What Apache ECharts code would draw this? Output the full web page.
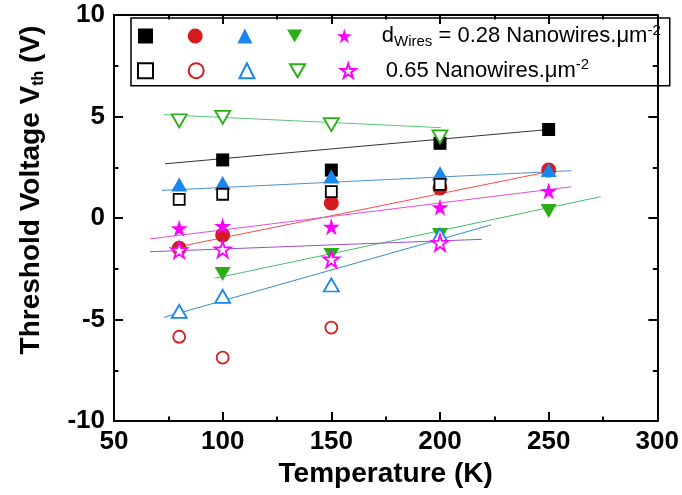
<!DOCTYPE html>
<html>
<head>
<meta charset="utf-8">
<script src="https://cdn.jsdelivr.net/npm/echarts@6/dist/echarts.min.js"></script>
<style>
  html, body { margin: 0; padding: 0; background: #fff; }
  #chart { width: 682px; height: 495px; }
</style>
</head>
<body>
<div id="chart"></div>
<script>
// temperatures (K)
const temps = [80, 100, 150, 200, 250];

// d = 0.28 nanowires/um2 (filled symbols)
const squareFilled = [null, 2.86, 2.36, 3.68, 4.36];
const circleFilled = [-1.49, -0.84, 0.74, 1.48, 2.36];
const triFilled = [1.65, 1.72, 2.05, 2.2, 2.36];
const downFilled = [null, -2.76, -1.82, -0.84, 0.35];
const starFilled = [-0.51, -0.39, -0.43, 0.53, 1.33];

// d = 0.65 nanowires/um2 (open symbols)
const squareOpen = [0.92, 1.17, 1.3, 1.66, null];
const circleOpen = [-5.85, -6.88, -5.4, null, null];
const triOpen = [-4.6, -3.86, -3.3, -0.84, null];
const downOpen = [4.79, 4.96, 4.6, 4.0, null];
const starOpen = [-1.58, -1.54, -2.03, -1.22, null];

// linear fits, [start, end] as [T, V]
const fitBlack = [[73.5, 2.67], [250, 4.36]];
const fitRed = [[80, -1.41], [250, 2.28]];
const fitBlue = [[72, 1.36], [260.5, 2.33]];
const fitGreen = [[96.4, -2.97], [274, 1.05]];
const fitMagenta = [[66.6, -1.03], [260.5, 1.54]];
const fitGreenOpen = [[73, 5.09], [200.4, 4.45]];
const fitBlueOpen = [[73, -4.89], [223.5, -0.34]];
const fitPurpleOpen = [[66.6, -1.66], [219.3, -1.05]];

const xTicks = [50, 100, 150, 200, 250, 300];
const yTicks = [-10, -5, 0, 5, 10];

const STAR = 'path://M50,0 L61.23,34.55 L97.55,34.55 L68.17,55.9 L79.39,90.45 L50,69.1 L20.61,90.45 L31.83,55.9 L2.45,34.55 L38.77,34.55 Z';
const DOWN = 'path://M0,0 L16,0 L8,14 Z';
const FONT = 'Liberation Sans, Arial, sans-serif';

function pts(vals) {
  return temps.map((t, i) => [t, vals[i]]).filter(p => p[1] !== null);
}

function fit(name, d, color) {
  return {
    name: name, type: 'line', data: d, symbol: 'none', silent: true, z: 1,
    lineStyle: { color: color, width: 1 }
  };
}

function filled(name, vals, symbol, color, size) {
  return {
    name: name, type: 'scatter', data: pts(vals), symbol: symbol,
    symbolSize: size, z: 3,
    itemStyle: { color: color, opacity: 1 }
  };
}

function hollow(name, vals, symbol, color, size) {
  return {
    name: name, type: 'scatter', data: pts(vals), symbol: symbol,
    symbolSize: size, z: 4,
    itemStyle: { color: '#fff', borderColor: color, borderWidth: 1.8, opacity: 1 }
  };
}

const black = '#000000', red = '#d41c1f', blue = '#1a86f0', green = '#2aae16', magenta = '#ff00ff';

const series = [
  fit('f1', fitBlack, '#333333'),
  fit('f2', fitRed, '#ff4a4a'),
  fit('f3', fitBlue, '#4a90d0'),
  fit('f4', fitGreen, '#45c068'),
  fit('f5', fitMagenta, '#e050d8'),
  fit('f6', fitGreenOpen, '#55c878'),
  fit('f7', fitBlueOpen, '#3a8ccc'),
  fit('f8', fitPurpleOpen, '#9a50c8'),
  filled('sqF', squareFilled, 'rect', black, 13),
  filled('ciF', circleFilled, 'circle', red, 15),
  filled('trF', triFilled, 'triangle', blue, [16, 14]),
  filled('dnF', downFilled, DOWN, green, [16, 14]),
  filled('stF', starFilled, STAR, magenta, 17),
  hollow('sqO', squareOpen, 'rect', black, 11),
  hollow('ciO', circleOpen, 'circle', red, 12),
  hollow('trO', triOpen, 'triangle', blue, [15, 13]),
  hollow('dnO', downOpen, DOWN, green, [15, 13]),
  hollow('stO', starOpen, STAR, magenta, 16)
];

const tickStyle = { color: '#000', width: 2 };
function xAx(pos, labels) {
  return {
    type: 'value', position: pos, min: xTicks[0], max: xTicks[xTicks.length - 1], interval: 50,
    axisLine: { onZero: false, lineStyle: { color: '#000', width: 2 } },
    axisTick: { inside: true, length: 9, lineStyle: tickStyle },
    minorTick: { show: true, splitNumber: 2, length: 4.5, lineStyle: tickStyle },
    splitLine: { show: false },
    axisLabel: { show: labels, color: '#000', fontSize: 26, fontWeight: 'bold', fontFamily: FONT, margin: 8 },
    name: labels ? 'Temperature (K)' : '', nameLocation: 'middle', nameGap: 34,
    nameTextStyle: { color: '#000', fontSize: 28, fontWeight: 'bold', fontFamily: FONT }
  };
}
function yAx(pos, labels) {
  return {
    type: 'value', position: pos, min: yTicks[0], max: yTicks[yTicks.length - 1], interval: 5,
    axisLine: { onZero: false, lineStyle: { color: '#000', width: 2 } },
    axisTick: { inside: true, length: 9, lineStyle: tickStyle },
    minorTick: { show: true, splitNumber: 2, length: 4.5, lineStyle: tickStyle },
    splitLine: { show: false },
    axisLabel: { show: labels, color: '#000', fontSize: 26, fontWeight: 'bold', fontFamily: FONT, margin: 9 }
  };
}

const txt = { fontSize: 22, lineHeight: 26, color: '#000', fontFamily: FONT };

const chart = echarts.init(document.getElementById('chart'));
chart.setOption({
  animation: false,
  grid: { left: 114, right: 24, top: 15, bottom: 74 },
  xAxis: [xAx('bottom', true), xAx('top', false)],
  yAxis: [yAx('left', true), yAx('right', false)],
  legend: {
    left: 131, top: 18, orient: 'horizontal', width: 560,
    data: ['sqF', 'ciF', 'trF', 'dnF', 'stF', 'sqO', 'ciO', 'trO', 'dnO', 'stO'],
    itemWidth: 15, itemHeight: 15, itemGap: 8.7,
    padding: [5, 9, 4, 6], borderColor: '#000', borderWidth: 1.5,
    selectedMode: false,
    formatter: function (name) {
      if (name === 'stF') return '{d|d}{sub|Wires}{t| = 0.28 Nanowires.μm}{sup|-2}';
      if (name === 'stO') return '{d|0.65 Nanowires.μm}{sup|-2}';
      return '{e| }';
    },
    textStyle: {
      rich: {
        t: txt,
        d: Object.assign({ padding: [0, 0, 0, 25] }, txt),
        e: Object.assign({ width: 21 }, txt),
        sub: { fontSize: 15, lineHeight: 14, verticalAlign: 'bottom', color: '#000', fontFamily: FONT },
        sup: { fontSize: 15, lineHeight: 14, verticalAlign: 'top', color: '#000', fontFamily: FONT }
      }
    }
  },
  graphic: [{
    type: 'text', x: 31, y: 190, rotation: Math.PI / 2,
    style: {
      text: '{a|Threshold Voltage V}{s|th}{a| (V)}',
      align: 'center', verticalAlign: 'middle',
      rich: {
        a: { fontSize: 28, lineHeight: 32, fontWeight: 'bold', fill: '#000', fontFamily: FONT },
        s: { fontSize: 16, lineHeight: 16, fontWeight: 'bold', verticalAlign: 'bottom', fill: '#000', fontFamily: FONT }
      }
    }
  }],
  series: series
});
</script>
</body>
</html>
